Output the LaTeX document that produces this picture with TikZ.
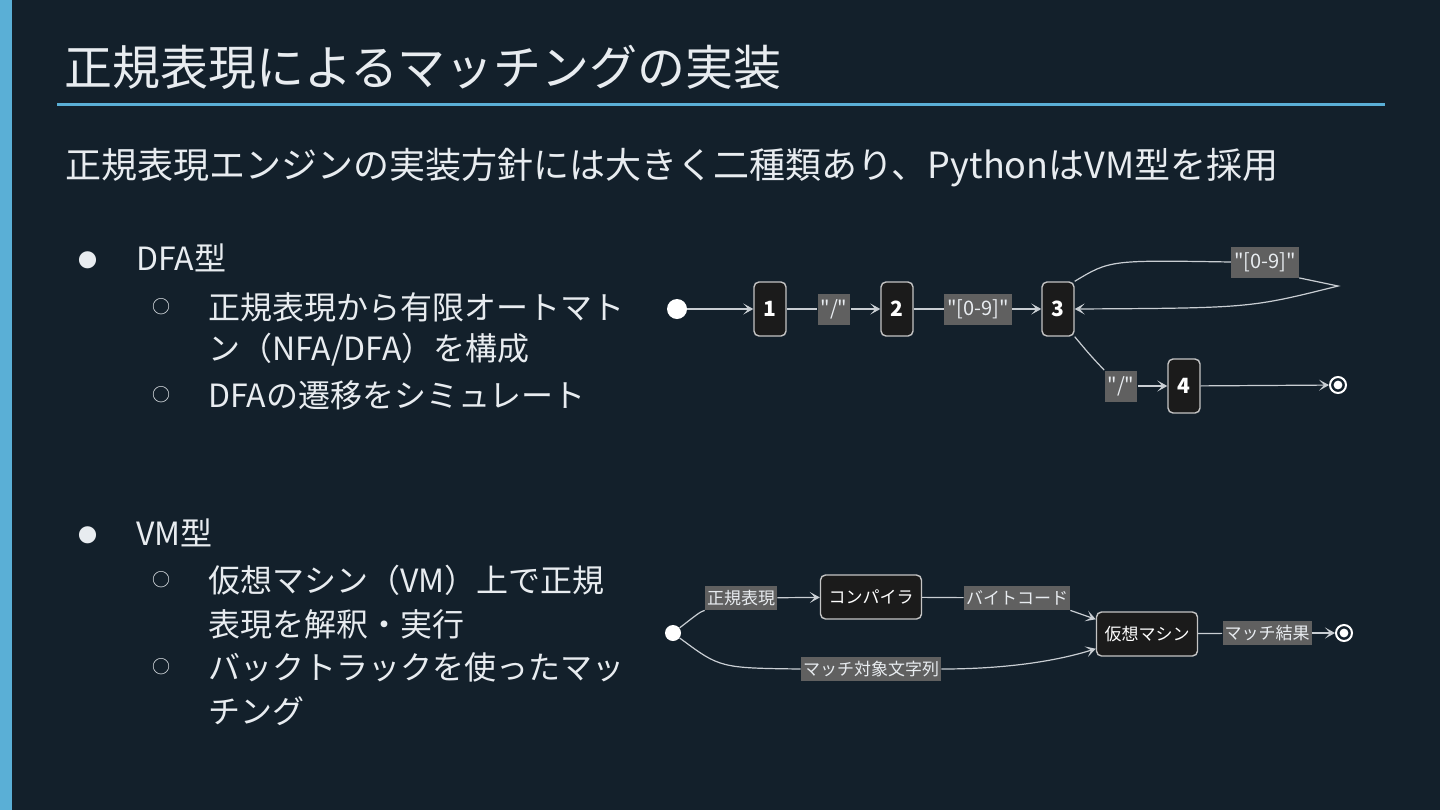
\documentclass[tikz,border=0pt]{standalone}
\usepackage{fontspec}
\setmainfont{Noto Sans CJK JP}
\newfontfamily\tagfont{Noto Sans CJK JP}[Ligatures=TeXOff]
\usetikzlibrary{arrows.meta,positioning}
\definecolor{bgnavy}{HTML}{13202B}
\definecolor{accent}{HTML}{5AAFD6}
\definecolor{inktext}{HTML}{E8ECF0}
\definecolor{boxfill}{HTML}{1B1B1B}
\definecolor{boxline}{HTML}{C4C4C4}
\definecolor{tagfill}{HTML}{606060}
\definecolor{wirecol}{HTML}{C9CED3}

\begin{document}
\begin{tikzpicture}[
    x=0.5pt, y=-0.5pt,
    heading/.style={anchor=west, text=inktext, inner sep=0pt, font=\fontsize{24pt}{28pt}\selectfont},
    lead/.style={anchor=west, text=inktext, inner sep=0pt, font=\fontsize{18pt}{22pt}\selectfont},
    item/.style={anchor=west, text=inktext, inner sep=0pt, font=\fontsize{16pt}{20pt}\selectfont},
    bigdot/.style={text=inktext, inner sep=0pt, font=\fontsize{9.5pt}{12pt}\selectfont},
    ringdot/.style={bigdot, font=\fontsize{9pt}{12pt}\selectfont},
    state/.style={draw=boxline, fill=boxfill, rounded corners=2.5pt, line width=0.7pt, text=white, font=\fontsize{10.5pt}{12pt}\selectfont\bfseries, minimum width=16pt, minimum height=27pt, inner sep=0pt},
    stage/.style={state, font=\fontsize{8.5pt}{10pt}\selectfont, minimum width=50.5pt, minimum height=22pt},
    tag/.style={fill=tagfill, text=inktext, font=\tagfont\fontsize{10pt}{11pt}\selectfont, inner xsep=1.5pt, inner ysep=0pt, minimum height=15.5pt},
    smalltag/.style={tag, font=\fontsize{8.5pt}{10pt}\selectfont, inner xsep=1pt, minimum height=12pt},
    wire/.style={draw=wirecol, line width=0.6pt},
    flow/.style={wire, -{Stealth[length=5pt,width=5.5pt,inset=2.5pt]}},
    startdot/.style={circle, fill=white, inner sep=0pt, minimum size=10pt},
    enddot/.style={circle, draw=white, line width=1pt, inner sep=0pt, minimum size=8pt},
]
\useasboundingbox (0,0) rectangle (1440,810);
\fill[bgnavy] (0,0) rectangle (1440,810);
\fill[accent] (0,0) rectangle (12,810);

% title and lead
\node[heading] (title) at (64,67) {正規表現によるマッチングの実装};
\draw[accent, line width=1.5pt] (57,104) -- (1385,104);
\node[lead] (lead) at (65,168) {正規表現エンジンの実装方針には大きく二種類あり、PythonはVM型を採用};

% bullets
\node[bigdot] (b1) at (88,260) {●};
\node[item] (dfa) at (136,258) {DFA型};
\node[bigdot] (b2) at (88,535) {●};
\node[item] (vmtype) at (136,533) {VM型};
\foreach \yy [count=\i] in {307,395,580,667} {
  \node[ringdot] (r\i) at (161,\yy) {○};
}
\node[item] (dfa1) at (208,307) {正規表現から有限オートマト};
\node[item] (dfa1b) at (208,350) {ン（NFA/DFA）を構成};
\node[item] (dfa2) at (208,395) {DFAの遷移をシミュレート};
\node[item] (vm1) at (208,580) {仮想マシン（VM）上で正規};
\node[item] (vm1b) at (208,624) {表現を解釈・実行};
\node[item] (vm2) at (208,667) {バックトラックを使ったマッ};
\node[item] (vm2b) at (208,711) {チング};

% DFA diagram
\node[startdot] (init1) at (677,309) {};
\node[state] (q1) at (770,309) {1};
\node[state] (q2) at (897,309) {2};
\node[state] (q3) at (1058,309) {3};
\node[state] (q4) at (1184,386) {4};
\node[enddot] (fin1) at (1338,385) {};
\fill[white] (fin1.center) circle (2.2pt);
\node[tag] (t12) at (834,309) {"/"};
\node[tag] (t23) at (978,309) {"[0-9]"};
\node[tag] (t33) at (1265,262) {"[0-9]"};
\node[tag] (t34) at (1121,386) {"/"};
\coordinate (loopend) at (1338,286);
\draw[flow] (init1) -- (q1);
\draw[wire] (q1) -- (t12);
\draw[flow] (t12) -- (q2);
\draw[wire] (q2) -- (t23);
\draw[flow] (t23) -- (q3);
\draw[wire] (q3.north east) .. controls (1110,260) .. (t33.west);
\draw[flow] (t33.south east) -- (loopend) .. controls (1250,308) .. (q3.east);
\draw[wire] (q3.south east) .. controls (1090,355) .. (t34.north west);
\draw[flow] (t34.east) -- (q4.west);
\draw[flow] (q4) -- (fin1);

% VM diagram
\node[startdot, minimum size=8pt] (init2) at (673,633) {};
\node[stage] (comp) at (871,597) {コンパイラ};
\node[stage] (vm) at (1147,634) {仮想マシン};
\node[enddot] (fin2) at (1344,633) {};
\fill[white] (fin2.center) circle (2.2pt);
\node[smalltag] (tsrc) at (741,598) {正規表現};
\node[smalltag] (tbyte) at (1017,598) {バイトコード};
\node[smalltag] (tres) at (1267,633) {マッチ結果};
\node[smalltag] (tstr) at (871,669) {マッチ対象文字列};
\draw[wire] (init2) .. controls (700,612) .. (tsrc);
\draw[flow] (tsrc) -- (comp);
\draw[wire] (comp) -- (tbyte);
\draw[flow] (tbyte.south east) -- ([yshift=-4pt]vm.north west);
\draw[wire] (init2) .. controls (720,668) .. (tstr.west);
\draw[flow] (tstr.east) .. controls (1010,669) and (1060,660) .. ([yshift=4pt]vm.south west);
\draw[wire] (vm) -- (tres);
\draw[flow] (tres) -- (fin2);
\end{tikzpicture}
\end{document}
